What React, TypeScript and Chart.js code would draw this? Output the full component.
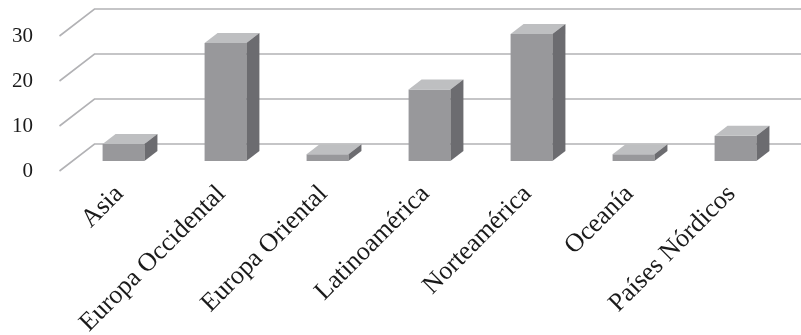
import React, { useEffect, useRef } from 'react';
import { Chart, registerables } from 'chart.js';

Chart.register(...registerables);

// Regions and their values
const regions = [
  'Asia',
  'Europa Occidental',
  'Europa Oriental',
  'Latinoamérica',
  'Norteamérica',
  'Oceanía',
  'Países Nórdicos',
];
const values = [3.8, 26.2, 1.5, 15.9, 28.2, 1.5, 5.6];
const yTicks = [0, 10, 20, 30];

// Oblique 3D geometry (pixels)
const BAR_DEPTH = { dx: 13, dy: 10 };
const TO_FRONT = { dx: -13, dy: 10 };
const TO_BACK = { dx: 22, dy: 17 };

const FACE_FRONT = '#98989b';
const FACE_TOP = '#bebfc1';
const FACE_SIDE = '#6c6c70';
const GRID = '#b2b2b5';
const TEXT = '#1a1a1a';
const SERIF = '"Liberation Serif", "Times New Roman", serif';

const box3d = {
  id: 'box3d',
  beforeDatasetsDraw(chart: any) {
    const { ctx, chartArea } = chart;
    const y = chart.scales.y;
    ctx.save();
    // back wall gridlines with their slanted floor/side returns
    ctx.strokeStyle = GRID;
    ctx.lineWidth = 1.6;
    y.ticks.forEach((t: any) => {
      const py = y.getPixelForValue(t.value);
      const x0 = chartArea.left + TO_FRONT.dx;
      const y0 = py + TO_FRONT.dy;
      const x1 = chartArea.left + TO_BACK.dx;
      const y1 = py - TO_BACK.dy;
      ctx.beginPath();
      ctx.moveTo(x0, y0);
      ctx.lineTo(x1, y1);
      ctx.lineTo(chart.width, y1);
      ctx.stroke();
    });
    // value labels on the front edge
    ctx.fillStyle = TEXT;
    ctx.font = `21px ${SERIF}`;
    ctx.textAlign = 'right';
    ctx.textBaseline = 'middle';
    y.ticks.forEach((t: any) => {
      ctx.fillText(String(t.value), 33, y.getPixelForValue(t.value) + TO_FRONT.dy);
    });
    ctx.restore();
  },
  afterDatasetsDraw(chart: any) {
    const { ctx } = chart;
    const meta = chart.getDatasetMeta(0);
    ctx.save();
    meta.data.forEach((bar: any) => {
      const { x, y, base, width } = bar.getProps(['x', 'y', 'base', 'width'], true);
      const l = x - width / 2;
      const r = x + width / 2;
      // top face
      ctx.fillStyle = FACE_TOP;
      ctx.beginPath();
      ctx.moveTo(l, y);
      ctx.lineTo(l + BAR_DEPTH.dx, y - BAR_DEPTH.dy);
      ctx.lineTo(r + BAR_DEPTH.dx, y - BAR_DEPTH.dy);
      ctx.lineTo(r, y);
      ctx.closePath();
      ctx.fill();
      // right side face
      ctx.fillStyle = FACE_SIDE;
      ctx.beginPath();
      ctx.moveTo(r, y);
      ctx.lineTo(r + BAR_DEPTH.dx, y - BAR_DEPTH.dy);
      ctx.lineTo(r + BAR_DEPTH.dx, base - BAR_DEPTH.dy);
      ctx.lineTo(r, base);
      ctx.closePath();
      ctx.fill();
    });
    ctx.restore();
  },
};

export default function App() {
  const canvasRef = useRef<HTMLCanvasElement | null>(null);

  useEffect(() => {
    if (!canvasRef.current) return;
    const chart = new Chart(canvasRef.current, {
      type: 'bar',
      data: {
        labels: regions,
        datasets: [
          {
            data: values,
            backgroundColor: FACE_FRONT,
            borderWidth: 0,
            barPercentage: 0.41,
            categoryPercentage: 1,
          },
        ],
      },
      options: {
        animation: false,
        responsive: true,
        maintainAspectRatio: false,
        layout: { padding: { left: 72.5, right: 14.5, top: 26, bottom: 0 } },
        plugins: { legend: { display: false }, tooltip: { enabled: false } },
        scales: {
          x: {
            grid: { display: false, drawTicks: false },
            border: { display: false },
            ticks: {
              autoSkip: false,
              minRotation: 45,
              maxRotation: 45,
              padding: 18,
              labelOffset: -4,
              color: TEXT,
              font: { family: SERIF, size: 26 },
            },
            afterFit: (s: any) => {
              s.height = 174;
            },
          },
          y: {
            display: false,
            min: 0,
            max: 30,
            afterBuildTicks: (s: any) => {
              s.ticks = yTicks.map((v) => ({ value: v }));
            },
          },
        },
      },
      plugins: [box3d],
    });
    return () => chart.destroy();
  }, []);

  return (
    <div style={{ position: 'fixed', left: 0, top: 0, width: 801, height: 335, background: '#fff' }}>
      <canvas ref={canvasRef} />
    </div>
  );
}
